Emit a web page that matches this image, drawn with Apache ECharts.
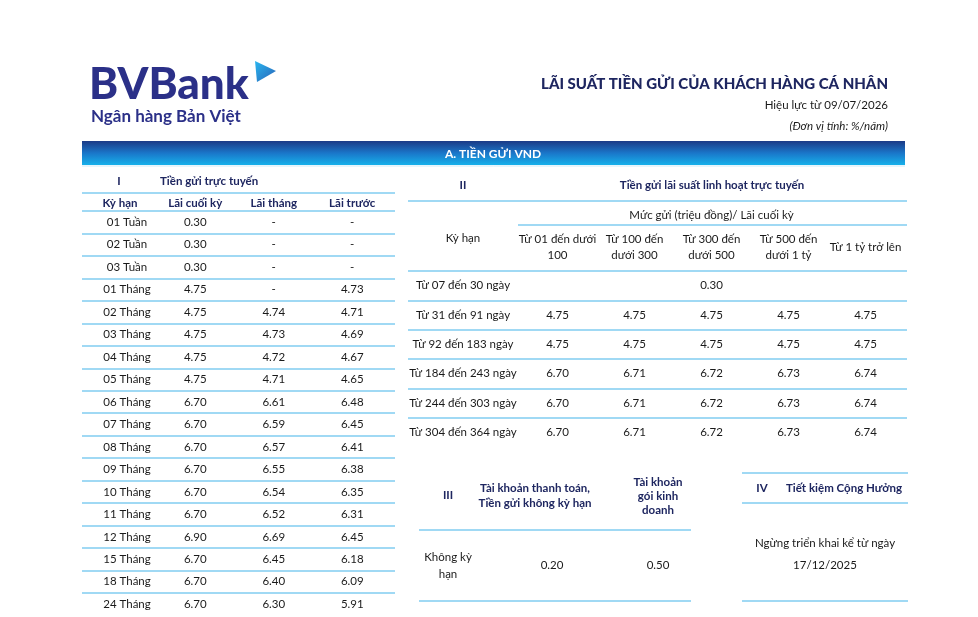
<!DOCTYPE html>
<html>
<head>
<meta charset="utf-8">
<script src="https://cdn.jsdelivr.net/npm/echarts@6/dist/echarts.min.js"></script>
<style>
html,body{margin:0;padding:0;background:#fff;}
#chart{width:978px;height:617px;}
</style>
</head>
<body>
<div id="chart"></div>
<script>
// ---------------- DATA ----------------
// I. Tiền gửi trực tuyến
const termsI = ['01 Tuần','02 Tuần','03 Tuần','01 Tháng','02 Tháng','03 Tháng','04 Tháng','05 Tháng','06 Tháng','07 Tháng','08 Tháng','09 Tháng','10 Tháng','11 Tháng','12 Tháng','15 Tháng','18 Tháng','24 Tháng'];
const colsI = ['Lãi cuối kỳ','Lãi tháng','Lãi trước'];
const endRateI = [0.30,0.30,0.30,4.75,4.75,4.75,4.75,4.75,6.70,6.70,6.70,6.70,6.70,6.70,6.90,6.70,6.70,6.70];
const monthlyRateI = [null,null,null,null,4.74,4.73,4.72,4.71,6.61,6.59,6.57,6.55,6.54,6.52,6.69,6.45,6.40,6.30];
const upfrontRateI = [null,null,null,4.73,4.71,4.69,4.67,4.65,6.48,6.45,6.41,6.38,6.35,6.31,6.45,6.18,6.09,5.91];

// II. Tiền gửi lãi suất linh hoạt trực tuyến
const termsII = ['Từ 07 đến 30 ngày','Từ 31 đến 91 ngày','Từ 92 đến 183 ngày','Từ 184 đến 243 ngày','Từ 244 đến 303 ngày','Từ 304 đến 364 ngày'];
const tiersII = ['Từ 01 đến dưới\n100','Từ 100 đến\ndưới 300','Từ 300 đến\ndưới 500','Từ 500 đến\ndưới 1 tỷ','Từ 1 tỷ trở lên'];
const tier1II = [0.30,4.75,4.75,6.70,6.70,6.70];
const tier2II = [0.30,4.75,4.75,6.71,6.71,6.71];
const tier3II = [0.30,4.75,4.75,6.72,6.72,6.72];
const tier4II = [0.30,4.75,4.75,6.73,6.73,6.73];
const tier5II = [0.30,4.75,4.75,6.74,6.74,6.74];
const mergedRowsII = [0]; // rows shown as one merged cell across all tiers

// III. Tài khoản thanh toán / không kỳ hạn
const termsIII = ['Không kỳ\nhạn'];
const colsIII = ['Tài khoản thanh toán,\nTiền gửi không kỳ hạn','Tài khoản\ngói kinh\ndoanh'];
const ratesIII = [0.20, 0.50];

// ---------------- STYLE ----------------
const FF = 'Lato, "Noto Sans", sans-serif';
const NAVY = '#1e2660';
const LOGO = '#2b3088';
const TXT = '#1a1a1a';
const RULE = '#80cdf0';
const RW = 1.6;

function fmt(v){ return v == null ? '-' : v.toFixed(2); }

// cells
const cellsI = [];
[endRateI, monthlyRateI, upfrontRateI].forEach(function(arr, c){
  arr.forEach(function(v, r){ cellsI.push({col:c,row:r,text:fmt(v)}); });
});
const cellsII = [];
const tierArrs = [tier1II,tier2II,tier3II,tier4II,tier5II];
termsII.forEach(function(t, r){
  if (mergedRowsII.indexOf(r) >= 0) {
    cellsII.push({col:Math.floor(tierArrs.length/2), row:r, text:fmt(tier1II[r])});
  } else {
    tierArrs.forEach(function(arr, c){ cellsII.push({col:c,row:r,text:fmt(arr[r])}); });
  }
});
const cellsIII = ratesIII.map(function(v, c){ return {col:c,row:0,text:fmt(v)}; });

function textCells(cells, size){
  return function(params, api){
    const c = cells[params.dataIndex];
    const p = api.coord([api.value(0), api.value(1)]);
    return {type:'text', x:p[0], y:p[1],
      style:{text:c.text, fontFamily:FF, fontSize:size, fill:TXT, align:'center', verticalAlign:'middle'}};
  };
}

function lineY(data, showMax){
  return {type:'category', data:data, inverse:true, axisLine:{show:false}, axisTick:{show:false},
    axisLabel:{show:false}, splitLine:{show:true, showMinLine:true, showMaxLine:showMax, interval:0, lineStyle:{color:RULE,width:RW}}};
}

const rowH_I = 22.47, rowH_II = 29.33;

const grids = [
  {left:82, top:211, width:313, height:rowH_I*termsI.length},          // 0 lines I
  {left:156, top:211, width:235.5, height:rowH_I*termsI.length},       // 1 values I
  {left:408, top:271, width:499, height:rowH_II*termsII.length},       // 2 lines II
  {left:519, top:271, width:385, height:rowH_II*termsII.length},       // 3 values II
  {left:419, top:530, width:272, height:71},                           // 4 lines III
  {left:499, top:530, width:212, height:71}                            // 5 values III
];

const xAxes = [
  {gridIndex:0, type:'value', show:false},
  {gridIndex:1, type:'category', data:colsI, position:'top', axisLine:{show:false}, axisTick:{show:false}, splitLine:{show:false},
    axisLabel:{interval:0, margin:8, verticalAlign:'middle', fontFamily:FF, fontSize:11.5, fontWeight:'bold', color:NAVY}},
  {gridIndex:2, type:'value', show:false},
  {gridIndex:3, type:'category', data:tiersII, position:'top', axisLine:{show:false}, axisTick:{show:false}, splitLine:{show:false},
    axisLabel:{interval:0, margin:24, verticalAlign:'middle', lineHeight:16, fontFamily:FF, fontSize:11.5, color:TXT},
    name:'Mức gửi (triệu đồng)/ Lãi cuối kỳ', nameLocation:'middle', nameGap:50,
    nameTextStyle:{fontFamily:FF, fontSize:11.5, color:TXT}},
  {gridIndex:4, type:'value', show:false},
  {gridIndex:5, type:'category', data:colsIII, position:'top', axisLine:{show:false}, axisTick:{show:false}, splitLine:{show:false},
    axisLabel:{interval:0, margin:34, verticalAlign:'middle',
      formatter:function(v, i){ var k = i === 0 ? 'a' : 'b'; return v.split('\n').map(function(s){ return '{'+k+'|'+s+'}'; }).join('\n'); },
      rich:{
        a:{fontFamily:FF, fontSize:11.5, fontWeight:'bold', color:NAVY, lineHeight:15, padding:[0,34,0,0]},
        b:{fontFamily:FF, fontSize:11.5, fontWeight:'bold', color:NAVY, lineHeight:14}
      }}}
];

const yAxes = [
  Object.assign({gridIndex:0}, lineY(termsI, false)),
  {gridIndex:1, type:'category', data:termsI, inverse:true, axisLine:{show:false}, axisTick:{show:false}, splitLine:{show:false},
    axisLabel:{interval:0, margin:29, align:'center', fontFamily:FF, fontSize:11.5, color:TXT}},
  Object.assign({gridIndex:2}, lineY(termsII, false)),
  {gridIndex:3, type:'category', data:termsII, inverse:true, axisLine:{show:false}, axisTick:{show:false}, splitLine:{show:false},
    axisLabel:{interval:0, margin:56, align:'center', fontFamily:FF, fontSize:11.5, color:TXT}},
  Object.assign({gridIndex:4}, lineY(termsIII, true)),
  {gridIndex:5, type:'category', data:termsIII, inverse:true, axisLine:{show:false}, axisTick:{show:false}, splitLine:{show:false},
    axisLabel:{interval:0, margin:51, align:'center', lineHeight:17, fontFamily:FF, fontSize:11.5, color:TXT}}
];

const series = [
  {type:'custom', xAxisIndex:1, yAxisIndex:1, renderItem:textCells(cellsI, 11.5), data:cellsI.map(function(c){return [c.col,c.row];})},
  {type:'custom', xAxisIndex:3, yAxisIndex:3, renderItem:textCells(cellsII, 11.5), data:cellsII.map(function(c){return [c.col,c.row];})},
  {type:'custom', xAxisIndex:5, yAxisIndex:5, renderItem:textCells(cellsIII, 11.5), data:cellsIII.map(function(c){return [c.col,c.row];})}
];

function T(x, y, text, o){
  o = o || {};
  return {type:'text', x:x, y:y, silent:true, style:{text:text, fontFamily:FF, fontSize:o.size||11.5, fontWeight:o.weight||(o.bold?'bold':'normal'),
    fontStyle:o.italic?'italic':'normal', fill:o.color||TXT, align:o.align||'center', verticalAlign:'middle'}};
}
function L(x1, y, x2){
  return {type:'line', silent:true, shape:{x1:x1,y1:y,x2:x2,y2:y}, style:{stroke:RULE, lineWidth:RW}};
}

const graphics = [
  // logo
  T(89, 85, 'BVBank', {size:44, weight:900, color:LOGO, align:'left'}),
  {type:'polygon', silent:true, shape:{points:[[255,61],[276,71],[257,82]]},
    style:{fill:new echarts.graphic.LinearGradient(0,0,1,1,[{offset:0,color:'#29b6ef'},{offset:1,color:'#2a63b8'}])}},
  T(91, 117, 'Ngân hàng Bản Việt', {size:17, bold:true, color:LOGO, align:'left'}),
  // header right
  T(888, 84, 'LÃI SUẤT TIỀN GỬI CỦA KHÁCH HÀNG CÁ NHÂN', {size:15, weight:900, color:NAVY, align:'right'}),
  T(888, 105, 'Hiệu lực từ 09/07/2026', {size:11.5, align:'right'}),
  T(888, 126, '(Đơn vị tính: %/năm)', {size:11.5, italic:true, align:'right'}),
  // band
  {type:'rect', silent:true, shape:{x:82, y:141, width:823, height:24},
    style:{fill:new echarts.graphic.LinearGradient(0,0,0,1,[{offset:0,color:'#1b3a86'},{offset:0.5,color:'#1a76c9'},{offset:1,color:'#16b0ea'}])}},
  {type:'line', silent:true, shape:{x1:82,y1:166,x2:905,y2:166}, style:{stroke:'#cdebf8', lineWidth:1}},
  T(493, 154, 'A. TIỀN GỬI VND', {size:12, bold:true, color:'#ffffff'}),
  // section I
  T(119, 181, 'I', {bold:true, color:NAVY}),
  T(160, 181, 'Tiền gửi trực tuyến', {bold:true, color:NAVY, align:'left'}),
  L(82, 193, 395),
  T(120, 203, 'Kỳ hạn', {bold:true, color:NAVY}),
  // section II
  T(463, 185, 'II', {bold:true, color:NAVY}),
  T(712, 185, 'Tiền gửi lãi suất linh hoạt trực tuyến', {bold:true, color:NAVY}),
  L(408, 201, 907),
  L(518, 225, 907),
  T(463, 238, 'Kỳ hạn'),
  // section III
  T(448, 495, 'III', {bold:true, color:NAVY}),
  // section IV
  L(742, 473, 908),
  T(762, 488, 'IV', {bold:true, color:NAVY}),
  T(844, 488, 'Tiết kiệm Cộng Hưởng', {bold:true, color:NAVY}),
  L(742, 503, 908),
  T(825, 543, 'Ngừng triển khai kể từ ngày'),
  T(825, 565, '17/12/2025'),
  L(742, 601, 908)
];

const chart = echarts.init(document.getElementById('chart'), null, {renderer:'canvas'});
chart.setOption({
  animation:false,
  backgroundColor:'#ffffff',
  grid:grids,
  xAxis:xAxes,
  yAxis:yAxes,
  series:series,
  graphic:{elements:graphics}
});
</script>
</body>
</html>
